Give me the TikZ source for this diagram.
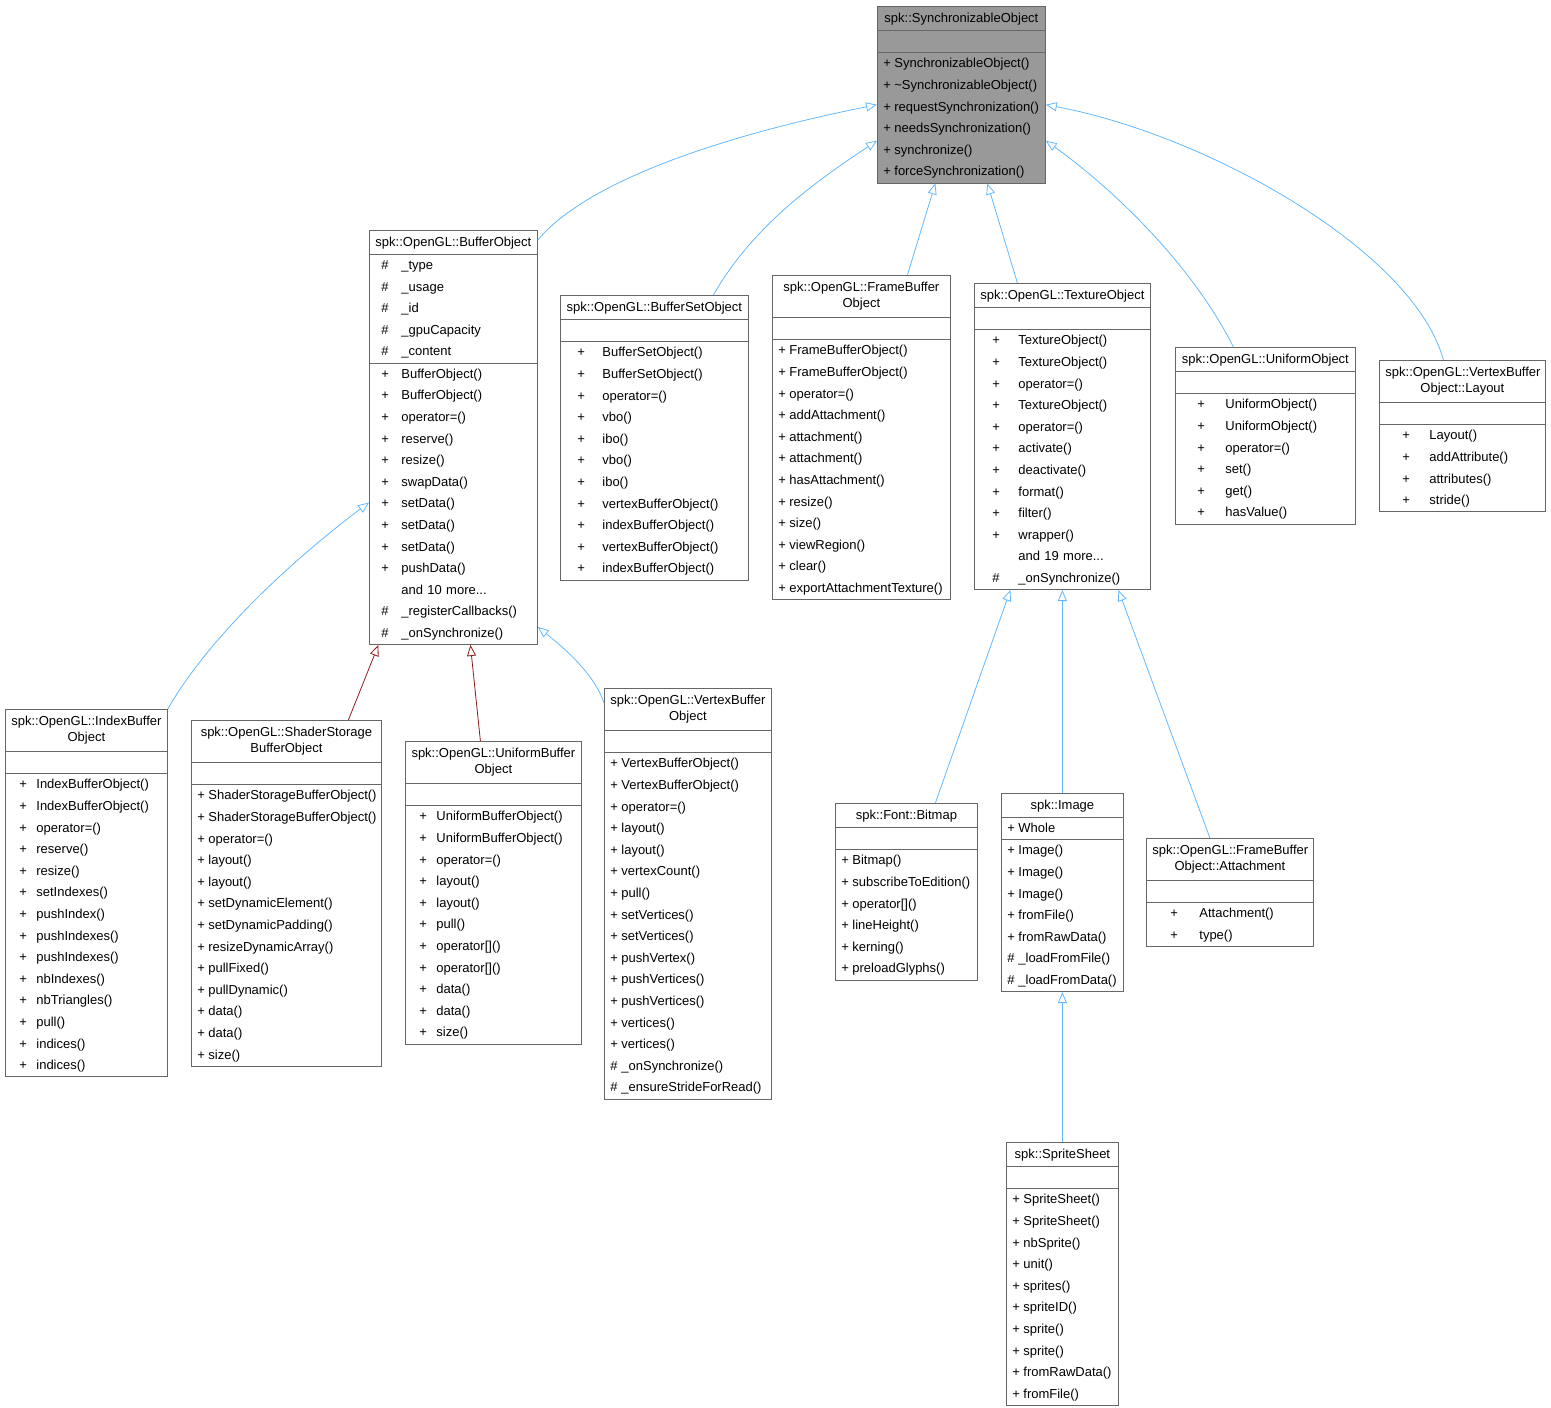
\documentclass[tikz,border=0pt]{standalone}
\usepackage{fontspec}
\setmainfont{Liberation Sans}
\usetikzlibrary{arrows.meta,shapes.multipart}
\definecolor{gray40}{HTML}{666666}
\definecolor{rootfill}{HTML}{999999}
\definecolor{steelblue}{HTML}{63B8FF}
\definecolor{firebrick}{HTML}{8B1A1A}
\newlength\mind
\newlength\mgap
\newcommand\mystrut{\rule[-6.8pt]{0pt}{21.6pt}}
\newcommand\ttl[1]{\centering\rule[-7.5pt]{0pt}{23pt}#1\par}
\newcommand\ttlB[2]{{\centering\fontsize{13}{16}\selectfont\rule{0pt}{16pt}#1\\\rule[-9pt]{0pt}{9pt}#2\par}}
\newcommand\emp{\noindent\mystrut\par}
\newcommand\mm[2]{\noindent\mystrut\hspace*{\mind}\makebox[\mgap][l]{#1}#2\par}
\begin{document}
\begin{tikzpicture}[x=1pt,y=-1pt,
    cls/.style={draw=gray40, fill=white, line width=0.8pt, rectangle split, rectangle split parts=3,
      anchor=north west, inner xsep=6pt, inner ysep=0pt,
      text width=#1, align=left, font={\fontsize{13}{21.6}\selectfont\parindent0pt}},
    pad/.code 2 args={\setlength\mind{#1}\setlength\mgap{#2}},
    pad={0pt}{11pt},
    inh/.style={draw=steelblue, line width=0.8pt, -{Triangle[open,fill=white,length=11pt,width=9pt]}},
    prot/.style={inh, draw=firebrick}]
  \useasboundingbox (0,0) rectangle (1551,1408);

  \node[cls=156pt, fill=rootfill] (sync) at (877,6) {\ttl{spk::SynchronizableObject}
    \nodepart{two}\emp
    \nodepart{three}\mm{+}{SynchronizableObject()}\mm{+}{\textasciitilde SynchronizableObject()}
    \mm{+}{requestSynchronization()}\mm{+}{needsSynchronization()}\mm{+}{synchronize()}
    \mm{+}{forceSynchronization()}};

  \node[cls=156pt, pad={6pt}{20pt}] (bufobj) at (369,230) {\ttl{spk::OpenGL::BufferObject}
    \nodepart{two}\mm{\#}{\_type}\mm{\#}{\_usage}\mm{\#}{\_id}\mm{\#}{\_gpuCapacity}\mm{\#}{\_content}
    \nodepart{three}\mm{+}{BufferObject()}\mm{+}{BufferObject()}\mm{+}{operator=()}\mm{+}{reserve()}
    \mm{+}{resize()}\mm{+}{swapData()}\mm{+}{setData()}\mm{+}{setData()}\mm{+}{setData()}
    \mm{+}{pushData()}\mm{}{and 10 more...}\mm{\#}{\_registerCallbacks()}\mm{\#}{\_onSynchronize()}};

  \node[cls=176pt, pad={11pt}{25pt}] (bufset) at (560,295) {\ttl{spk::OpenGL::BufferSetObject}
    \nodepart{two}\emp
    \nodepart{three}\mm{+}{BufferSetObject()}\mm{+}{BufferSetObject()}\mm{+}{operator=()}
    \mm{+}{vbo()}\mm{+}{ibo()}\mm{+}{vbo()}\mm{+}{ibo()}\mm{+}{vertexBufferObject()}
    \mm{+}{indexBufferObject()}\mm{+}{vertexBufferObject()}\mm{+}{indexBufferObject()}};

  \node[cls=166pt] (fbo) at (772,275) {\ttlB{spk::OpenGL::FrameBuffer}{Object}
    \nodepart{two}\emp
    \nodepart{three}\mm{+}{FrameBufferObject()}\mm{+}{FrameBufferObject()}\mm{+}{operator=()}
    \mm{+}{addAttachment()}\mm{+}{attachment()}\mm{+}{attachment()}\mm{+}{hasAttachment()}
    \mm{+}{resize()}\mm{+}{size()}\mm{+}{viewRegion()}\mm{+}{clear()}\mm{+}{exportAttachmentTexture()}};

  \node[cls=164pt, pad={12pt}{26pt}] (texobj) at (974,283) {\ttl{spk::OpenGL::TextureObject}
    \nodepart{two}\emp
    \nodepart{three}\mm{+}{TextureObject()}\mm{+}{TextureObject()}\mm{+}{operator=()}
    \mm{+}{TextureObject()}\mm{+}{operator=()}\mm{+}{activate()}\mm{+}{deactivate()}
    \mm{+}{format()}\mm{+}{filter()}\mm{+}{wrapper()}\mm{}{and 19 more...}\mm{\#}{\_onSynchronize()}};

  \node[cls=168pt, pad={16pt}{28pt}] (uniobj) at (1175,347) {\ttl{spk::OpenGL::UniformObject}
    \nodepart{two}\emp
    \nodepart{three}\mm{+}{UniformObject()}\mm{+}{UniformObject()}\mm{+}{operator=()}
    \mm{+}{set()}\mm{+}{get()}\mm{+}{hasValue()}};

  \node[cls=154pt, pad={17pt}{27pt}] (vblayout) at (1379,360) {\ttlB{spk::OpenGL::VertexBuffer}{Object::Layout}
    \nodepart{two}\emp
    \nodepart{three}\mm{+}{Layout()}\mm{+}{addAttribute()}\mm{+}{attributes()}\mm{+}{stride()}};

  \node[cls=150pt, pad={8pt}{17pt}] (ibo) at (5,709) {\ttlB{spk::OpenGL::IndexBuffer}{Object}
    \nodepart{two}\emp
    \nodepart{three}\mm{+}{IndexBufferObject()}\mm{+}{IndexBufferObject()}\mm{+}{operator=()}
    \mm{+}{reserve()}\mm{+}{resize()}\mm{+}{setIndexes()}\mm{+}{pushIndex()}\mm{+}{pushIndexes()}
    \mm{+}{pushIndexes()}\mm{+}{nbIndexes()}\mm{+}{nbTriangles()}\mm{+}{pull()}
    \mm{+}{indices()}\mm{+}{indices()}};

  \node[cls=178pt] (ssbo) at (191,720) {\ttlB{spk::OpenGL::ShaderStorage}{BufferObject}
    \nodepart{two}\emp
    \nodepart{three}\mm{+}{ShaderStorageBufferObject()}\mm{+}{ShaderStorageBufferObject()}
    \mm{+}{operator=()}\mm{+}{layout()}\mm{+}{layout()}\mm{+}{setDynamicElement()}
    \mm{+}{setDynamicPadding()}\mm{+}{resizeDynamicArray()}\mm{+}{pullFixed()}
    \mm{+}{pullDynamic()}\mm{+}{data()}\mm{+}{data()}\mm{+}{size()}};

  \node[cls=164pt, pad={8pt}{17pt}] (ubo) at (405,741) {\ttlB{spk::OpenGL::UniformBuffer}{Object}
    \nodepart{two}\emp
    \nodepart{three}\mm{+}{UniformBufferObject()}\mm{+}{UniformBufferObject()}\mm{+}{operator=()}
    \mm{+}{layout()}\mm{+}{layout()}\mm{+}{pull()}\mm{+}{operator[]()}\mm{+}{operator[]()}
    \mm{+}{data()}\mm{+}{data()}\mm{+}{size()}};

  \node[cls=155pt] (vbo) at (604,688) {\ttlB{spk::OpenGL::VertexBuffer}{Object}
    \nodepart{two}\emp
    \nodepart{three}\mm{+}{VertexBufferObject()}\mm{+}{VertexBufferObject()}\mm{+}{operator=()}
    \mm{+}{layout()}\mm{+}{layout()}\mm{+}{vertexCount()}\mm{+}{pull()}\mm{+}{setVertices()}
    \mm{+}{setVertices()}\mm{+}{pushVertex()}\mm{+}{pushVertices()}\mm{+}{pushVertices()}
    \mm{+}{vertices()}\mm{+}{vertices()}\mm{\#}{\_onSynchronize()}\mm{\#}{\_ensureStrideForRead()}};

  \node[cls=130pt] (bitmap) at (835,803) {\ttl{spk::Font::Bitmap}
    \nodepart{two}\emp
    \nodepart{three}\mm{+}{Bitmap()}\mm{+}{subscribeToEdition()}\mm{+}{operator[]()}
    \mm{+}{lineHeight()}\mm{+}{kerning()}\mm{+}{preloadGlyphs()}};

  \node[cls=110pt] (image) at (1001,793) {\ttl{spk::Image}
    \nodepart{two}\mm{+}{Whole}
    \nodepart{three}\mm{+}{Image()}\mm{+}{Image()}\mm{+}{Image()}\mm{+}{fromFile()}
    \mm{+}{fromRawData()}\mm{\#}{\_loadFromFile()}\mm{\#}{\_loadFromData()}};

  \node[cls=155pt, pad={18pt}{29pt}] (attach) at (1146,838) {\ttlB{spk::OpenGL::FrameBuffer}{Object::Attachment}
    \nodepart{two}\emp
    \nodepart{three}\mm{+}{Attachment()}\mm{+}{type()}};

  \node[cls=100pt] (sheet) at (1006,1142) {\ttl{spk::SpriteSheet}
    \nodepart{two}\emp
    \nodepart{three}\mm{+}{SpriteSheet()}\mm{+}{SpriteSheet()}\mm{+}{nbSprite()}\mm{+}{unit()}
    \mm{+}{sprites()}\mm{+}{spriteID()}\mm{+}{sprite()}\mm{+}{sprite()}\mm{+}{fromRawData()}
    \mm{+}{fromFile()}};

  % inheritance
  \draw[inh] ([yshift=-10pt]bufobj.north east) .. controls +(50,-60) and +(-150,30) .. ([yshift=-10pt]sync.west);
  \draw[inh] ([xshift=59pt]bufset.north) .. controls +(40,-70) and +(-60,40) .. ([yshift=-46pt]sync.west);
  \draw[inh] ([xshift=46pt]fbo.north) -- ([xshift=-26pt]sync.south);
  \draw[inh] ([xshift=-45pt]texobj.north) -- ([xshift=26pt]sync.south);
  \draw[inh] ([xshift=-32pt]uniobj.north) .. controls +(-40,-80) and +(70,50) .. ([yshift=-46pt]sync.east);
  \draw[inh] ([xshift=-19pt]vblayout.north) .. controls +(-30,-110) and +(160,30) .. ([yshift=-10pt]sync.east);
  \draw[inh] (ibo.north east) .. controls +(40,-70) and +(-80,60) .. ([yshift=-65pt]bufobj.west);
  \draw[prot] ([xshift=62pt]ssbo.north) -- ([xshift=-75pt]bufobj.south);
  \draw[prot] ([xshift=-13pt]ubo.north) -- ([xshift=17pt]bufobj.south);
  \draw[inh] ([yshift=-15pt]vbo.north west) .. controls +(-10,-30) and +(25,20) .. ([yshift=18pt]bufobj.south east);
  \draw[inh] ([xshift=29pt]bitmap.north) -- ([xshift=-52pt]texobj.south);
  \draw[inh] (image.north) -- (texobj.south);
  \draw[inh] ([xshift=-20pt]attach.north) -- ([xshift=56pt]texobj.south);
  \draw[inh] (sheet.north) -- (image.south);
\end{tikzpicture}
\end{document}
